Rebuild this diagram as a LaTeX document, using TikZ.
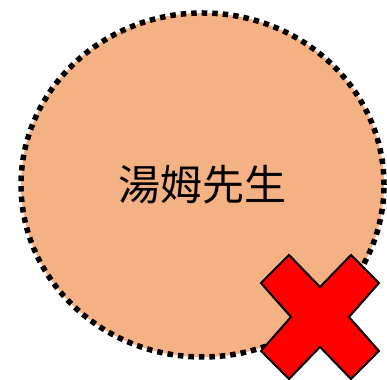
\documentclass[tikz,border=0pt]{standalone}
\usepackage{fontspec}
\newfontfamily\cjk{Noto Sans CJK TC}
\usetikzlibrary{positioning, shapes.geometric}
\definecolor{peach}{HTML}{F4B183}
\newcommand{\dotwidth}{5.5pt}
\tikzset{
    person/.style={ellipse, draw=black, fill=peach, line width=\dotwidth,
        dash pattern=on \dotwidth off 5pt, inner sep=0pt,
        minimum width=363pt, minimum height=344pt, font=\cjk\fontsize{42}{50}\selectfont},
    crossmark/.style={draw=black, fill=red, line width=2pt, line join=miter}
}

\begin{document}
\begin{tikzpicture}[x=1pt, y=1pt]
        \useasboundingbox (0,0) rectangle (387,379);
        \node[person] (tom) at (202.5,194) {湯姆先生};
        \coordinate (cross) at (320,62);
        \draw[crossmark, shift={(cross)}] (-31,62) -- (0,30) -- (31,62) -- (59,34)
        -- (29,0) -- (59,-34) -- (31,-62) -- (0,-30) -- (-31,-62) -- (-59,-34)
        -- (-29,0) -- (-59,34) -- cycle;
    \end{tikzpicture}
\end{document}
